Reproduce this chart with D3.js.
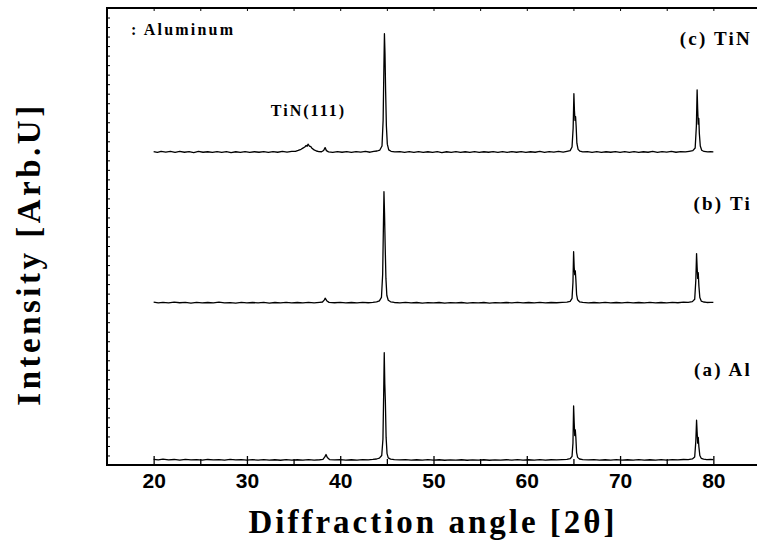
<!DOCTYPE html>
<html>
<head>
<meta charset="utf-8">
<script src="https://d3js.org/d3.v7.min.js"></script>
<style>
    body { margin: 0; background: #ffffff; }
    svg { display: block; }
    .serif { font-family: "Liberation Serif", "Times New Roman", serif; font-weight: bold; }
    .tickLabel { font-family: "Liberation Sans", Arial, sans-serif; font-weight: bold; font-size: 21px; }
</style>
</head>
<body>
<div id="chart"></div>
<script>
// Tick values on the angle axis
var angleTicks = [20, 30, 40, 50, 60, 70, 80];
var angleMinorTicks = [25, 35, 45, 55, 65, 75];
var angleTopTicks = [20, 25, 30, 35, 40, 45, 50, 55, 60, 65, 70, 75, 80];
var intensityTicks = d3.range(0, 490, 10);

// Sample names and vertical offset of each pattern (arb. units)
var sampleNames = ["(a) Al", "(b) Ti", "(c) TiN"];
var sampleOffsets = [5, 170, 328];

// Peak annotations
var peakLabels = ["TiN(111)"];
var peakAngles = [36.6];
var legendText = ": Aluminum";

// Patterns: [2theta, intensity above baseline]
var alPattern = [
    [20.0,0.9],[20.5,0.3],[21.0,1.1],[21.6,0.4],[22.2,0.8],[22.8,0.2],[23.4,0.9],[24.0,0.4],[24.6,0.7],[25.2,0.1],
    [25.8,0.8],[26.4,0.3],[27.0,0.6],[27.6,0.2],[28.2,0.9],[28.8,0.3],[29.4,0.7],[30.0,0.2],[30.6,0.6],[31.2,0.1],
    [31.8,0.7],[32.4,0.2],[33.0,0.5],[33.6,0.0],[34.2,0.6],[34.8,0.2],[35.4,0.5],[36.0,0.1],[36.6,0.6],[37.2,0.2],
    [37.8,0.5],[38.15,0.9],[38.35,3.5],[38.48,6.0],[38.62,2.8],[38.85,0.7],[39.4,0.3],[40.0,0.6],[40.6,0.1],[41.2,0.5],
    [41.8,0.2],[42.4,0.6],[43.0,0.3],[43.5,0.8],[43.9,1.3],[44.2,2.2],[44.45,5],[44.58,22],[44.66,70],[44.72,113],
    [44.78,80],[44.84,62],[44.92,24],[45.02,7],[45.15,2.5],[45.4,1.2],[45.8,0.6],[46.4,0.3],[47.0,0.6],[47.6,0.1],
    [48.2,0.5],[48.8,0.2],[49.4,0.6],[50.0,0.1],[50.6,0.5],[51.2,0.0],[51.8,0.4],[52.4,0.1],[53.0,0.5],[53.6,0.0],
    [54.2,0.4],[54.8,0.1],[55.4,0.5],[56.0,0.0],[56.6,0.4],[57.2,0.1],[57.8,0.5],[58.4,0.2],[59.0,0.6],[59.6,0.1],
    [60.2,0.5],[60.8,0.2],[61.4,0.6],[62.0,0.2],[62.6,0.5],[63.2,0.3],[63.8,0.7],[64.3,0.9],[64.65,1.6],[64.85,4],
    [64.95,18],[65.02,57],[65.08,40],[65.14,26],[65.2,32],[65.26,24],[65.34,8],[65.45,3],[65.65,1.3],[66.0,0.7],
    [66.6,0.3],[67.2,0.6],[67.8,0.1],[68.4,0.5],[69.0,0.2],[69.6,0.6],[70.2,0.1],[70.8,0.5],[71.4,0.2],[72.0,0.6],
    [72.6,0.1],[73.2,0.5],[73.8,0.2],[74.4,0.6],[75.0,0.2],[75.6,0.7],[76.2,0.3],[76.8,0.8],[77.3,0.6],[77.75,1.4],
    [78.0,3.5],[78.12,20],[78.2,42],[78.26,30],[78.32,18],[78.38,24],[78.45,14],[78.55,5],[78.7,2],[78.95,1.1],
    [79.3,0.6],[79.7,0.8],[80.0,0.7]
];

var tiPattern = [
    [20.0,1.0],[20.5,0.2],[21.0,0.9],[21.6,0.3],[22.2,1.1],[22.8,0.4],[23.4,0.8],[24.0,0.1],[24.6,0.9],[25.2,0.3],
    [25.8,0.7],[26.4,0.2],[27.0,1.0],[27.6,0.3],[28.2,0.6],[28.8,0.1],[29.4,0.9],[30.0,0.3],[30.6,0.7],[31.2,0.2],
    [31.8,0.8],[32.4,0.1],[33.0,0.7],[33.6,0.3],[34.2,0.9],[34.8,0.2],[35.4,0.7],[36.0,0.3],[36.6,0.8],[37.2,0.2],
    [37.8,0.9],[38.1,1.2],[38.28,3.2],[38.4,5.2],[38.55,2.6],[38.8,0.8],[39.4,0.4],[40.0,0.8],[40.6,0.2],[41.2,0.7],
    [41.8,0.3],[42.4,0.8],[43.0,0.4],[43.5,0.9],[43.9,1.4],[44.2,2.4],[44.42,6],[44.55,30],[44.63,80],[44.69,117],
    [44.75,95],[44.82,60],[44.9,26],[45.0,8],[45.15,3],[45.4,1.4],[45.8,0.7],[46.4,0.3],[47.0,0.8],[47.6,0.2],
    [48.2,0.7],[48.8,0.1],[49.4,0.6],[50.0,0.3],[50.6,0.7],[51.2,0.1],[51.8,0.6],[52.4,0.2],[53.0,0.7],[53.6,0.1],
    [54.2,0.6],[54.8,0.2],[55.4,0.7],[56.0,0.1],[56.6,0.6],[57.2,0.2],[57.8,0.7],[58.4,0.3],[59.0,0.8],[59.6,0.2],
    [60.2,0.7],[60.8,0.3],[61.4,0.8],[62.0,0.2],[62.6,0.7],[63.2,0.4],[63.8,0.9],[64.3,1.1],[64.65,1.8],[64.85,5],
    [64.95,22],[65.02,54],[65.08,38],[65.14,30],[65.2,34],[65.26,25],[65.34,9],[65.45,3.5],[65.65,1.4],[66.0,0.8],
    [66.6,0.2],[67.2,0.7],[67.8,0.3],[68.4,0.8],[69.0,0.2],[69.6,0.7],[70.2,0.3],[70.8,0.8],[71.4,0.2],[72.0,0.7],
    [72.6,0.3],[73.2,0.8],[73.8,0.2],[74.4,0.7],[75.0,0.3],[75.6,0.9],[76.2,0.4],[76.8,1.0],[77.3,0.8],[77.75,1.6],
    [78.0,4],[78.12,24],[78.2,52],[78.26,38],[78.32,26],[78.38,32],[78.45,18],[78.55,6],[78.7,2.2],[78.95,1.2],
    [79.3,0.7],[79.7,0.9],[80.0,0.8]
];

var tinPattern = [
    [20.0,1.2],[20.4,0.4],[20.8,1.5],[21.3,0.6],[21.8,1.3],[22.3,0.3],[22.8,1.4],[23.3,0.5],[23.8,1.1],[24.3,0.2],
    [24.8,1.3],[25.3,0.5],[25.8,1.0],[26.3,0.3],[26.8,1.2],[27.3,0.4],[27.8,1.1],[28.3,0.2],[28.8,1.0],[29.3,0.4],
    [29.8,1.2],[30.3,0.3],[30.8,1.0],[31.3,0.5],[31.8,1.1],[32.3,0.3],[32.8,1.2],[33.3,0.5],[33.8,1.3],[34.3,0.6],
    [34.8,1.5],[35.2,1.4],[35.5,2.4],[35.8,3.6],[36.0,4.8],[36.2,6.0],[36.35,7.6],[36.45,6.8],[36.55,9.0],[36.7,7.0],
    [36.85,6.4],[37.0,4.4],[37.2,3.0],[37.45,1.8],[37.7,1.2],[38.0,1.0],[38.22,2.4],[38.38,5.4],[38.52,2.2],[38.75,0.9],
    [39.2,0.4],[39.7,1.2],[40.2,0.5],[40.7,1.1],[41.2,0.3],[41.7,1.2],[42.2,0.6],[42.7,1.3],[43.2,0.5],[43.6,1.4],
    [43.95,1.8],[44.25,2.8],[44.48,7],[44.6,34],[44.68,88],[44.74,125],[44.8,104],[44.87,64],[44.95,28],[45.05,9],
    [45.2,3],[45.45,1.5],[45.85,0.8],[46.4,1.2],[46.9,0.3],[47.4,1.1],[47.9,0.4],[48.4,1.2],[48.9,0.3],[49.4,1.0],
    [49.9,0.4],[50.4,1.1],[50.9,0.2],[51.4,1.0],[51.9,0.4],[52.4,1.1],[52.9,0.3],[53.4,1.0],[53.9,0.4],[54.4,1.2],
    [54.9,0.3],[55.4,1.0],[55.9,0.5],[56.4,1.1],[56.9,0.3],[57.4,1.2],[57.9,0.4],[58.4,1.1],[58.9,0.5],[59.4,1.2],
    [59.9,0.4],[60.4,1.0],[60.9,0.5],[61.4,1.3],[61.9,0.4],[62.4,1.1],[62.9,0.6],[63.4,1.3],[63.9,0.7],[64.3,1.5],
    [64.65,2.2],[64.85,6],[64.97,26],[65.05,62],[65.11,44],[65.17,34],[65.23,38],[65.29,28],[65.37,10],[65.5,3.5],
    [65.7,1.6],[66.0,0.9],[66.5,1.2],[67.0,0.4],[67.5,1.1],[68.0,0.3],[68.5,1.0],[69.0,0.5],[69.5,1.2],[70.0,0.3],
    [70.5,1.1],[71.0,0.4],[71.5,1.2],[72.0,0.3],[72.5,1.0],[73.0,0.5],[73.5,1.3],[74.0,0.4],[74.5,1.1],[75.0,0.6],
    [75.5,1.4],[76.0,0.5],[76.5,1.2],[77.0,0.8],[77.4,1.5],[77.8,2.2],[78.05,5],[78.18,28],[78.26,66],[78.32,46],
    [78.38,30],[78.44,36],[78.5,20],[78.6,7],[78.75,2.6],[79.0,1.3],[79.4,0.8],[79.7,1.1],[80.0,0.9]
];

var patterns = [alPattern, tiPattern, tinPattern];

function init() {
    var w = 757;
    var h = 543;

    var svg = d3.select("#chart")
        .append("svg")
        .attr("width", w)
        .attr("height", h);

    // plot frame runs a little past the right edge of the picture
    var left = 107, right = 760, top = 8, bottom = 465;

    var xScale = d3.scaleLinear()
        .domain([15, 85])
        .range([left, right]);

    var yScale = d3.scaleLinear()
        .domain([0, 480])
        .range([bottom, top]);

    // patterns
    var line = d3.line()
        .x(function(d) { return xScale(d[0]); })
        .y(function(d) { return yScale(d[1] + d.offset); });

    patterns.forEach(function(pattern, i) {
        var pts = pattern.map(function(p) {
            var q = [p[0], p[1]];
            q.offset = sampleOffsets[i];
            return q;
        });
        svg.append("path")
            .datum(pts)
            .attr("d", line)
            .attr("fill", "none")
            .attr("stroke", "#000")
            .attr("stroke-width", 1.3)
            .attr("stroke-linejoin", "round");
    });

    // bottom axis: major ticks with labels, minor ticks without
    var xAxis = d3.axisBottom(xScale)
        .tickValues(angleTicks)
        .tickSizeInner(-9)
        .tickSizeOuter(0);
    var gx = svg.append("g")
        .attr("transform", "translate(0," + bottom + ")")
        .call(xAxis);
    gx.select(".domain").remove();
    gx.selectAll("line").attr("stroke", "#000").attr("stroke-width", 1.3);
    gx.selectAll("text").attr("class", "tickLabel").attr("fill", "#000").attr("dy", "0.71em").attr("y", 8);

    var xMinor = d3.axisBottom(xScale)
        .tickValues(angleMinorTicks)
        .tickSizeInner(-6)
        .tickSizeOuter(0)
        .tickFormat("");
    var gxm = svg.append("g")
        .attr("transform", "translate(0," + bottom + ")")
        .call(xMinor);
    gxm.select(".domain").remove();
    gxm.selectAll("line").attr("stroke", "#000").attr("stroke-width", 1.3);

    // top axis: small inward ticks
    var xTop = d3.axisTop(xScale)
        .tickValues(angleTopTicks)
        .tickSizeInner(-3)
        .tickSizeOuter(0)
        .tickFormat("");
    var gt = svg.append("g")
        .attr("transform", "translate(0," + top + ")")
        .call(xTop);
    gt.select(".domain").remove();
    gt.selectAll("line").attr("stroke", "#000");

    // left axis: small inward ticks, no labels
    var yAxis = d3.axisLeft(yScale)
        .tickValues(intensityTicks)
        .tickSizeInner(-3)
        .tickSizeOuter(0)
        .tickFormat("");
    var gy = svg.append("g")
        .attr("transform", "translate(" + left + ",0)")
        .call(yAxis);
    gy.select(".domain").remove();
    gy.selectAll("line").attr("stroke", "#000");

    // frame
    svg.append("rect")
        .attr("x", left)
        .attr("y", top)
        .attr("width", right - left)
        .attr("height", bottom - top)
        .attr("fill", "none")
        .attr("stroke", "#000")
        .attr("stroke-width", 2);

    // sample labels at the right
    var labelY = [376, 210, 45];
    sampleNames.forEach(function(name, i) {
        svg.append("text")
            .attr("class", "serif")
            .attr("x", 752)
            .attr("y", labelY[i])
            .attr("text-anchor", "end")
            .style("font-size", "19px")
            .style("letter-spacing", "2.2px")
            .text(name);
    });

    // peak annotation
    svg.append("text")
        .attr("class", "serif")
        .attr("x", xScale(peakAngles[0]))
        .attr("y", 116)
        .attr("text-anchor", "middle")
        .style("font-size", "16px")
        .style("letter-spacing", "2px")
        .text(peakLabels[0]);

    // legend text
    svg.append("text")
        .attr("class", "serif")
        .attr("x", 131)
        .attr("y", 35)
        .style("font-size", "16px")
        .style("letter-spacing", "2.2px")
        .text(legendText);

    // axis titles
    svg.append("text")
        .attr("class", "serif")
        .attr("x", 433)
        .attr("y", 533)
        .attr("text-anchor", "middle")
        .style("font-size", "33px")
        .style("letter-spacing", "3px")
        .text("Diffraction angle [2\u03b8]");

    svg.append("text")
        .attr("class", "serif")
        .attr("transform", "translate(40,254) rotate(-90)")
        .attr("text-anchor", "middle")
        .style("font-size", "33px")
        .style("letter-spacing", "3.5px")
        .text("Intensity [Arb.U]");
}

window.onload = init;
</script>
</body>
</html>
